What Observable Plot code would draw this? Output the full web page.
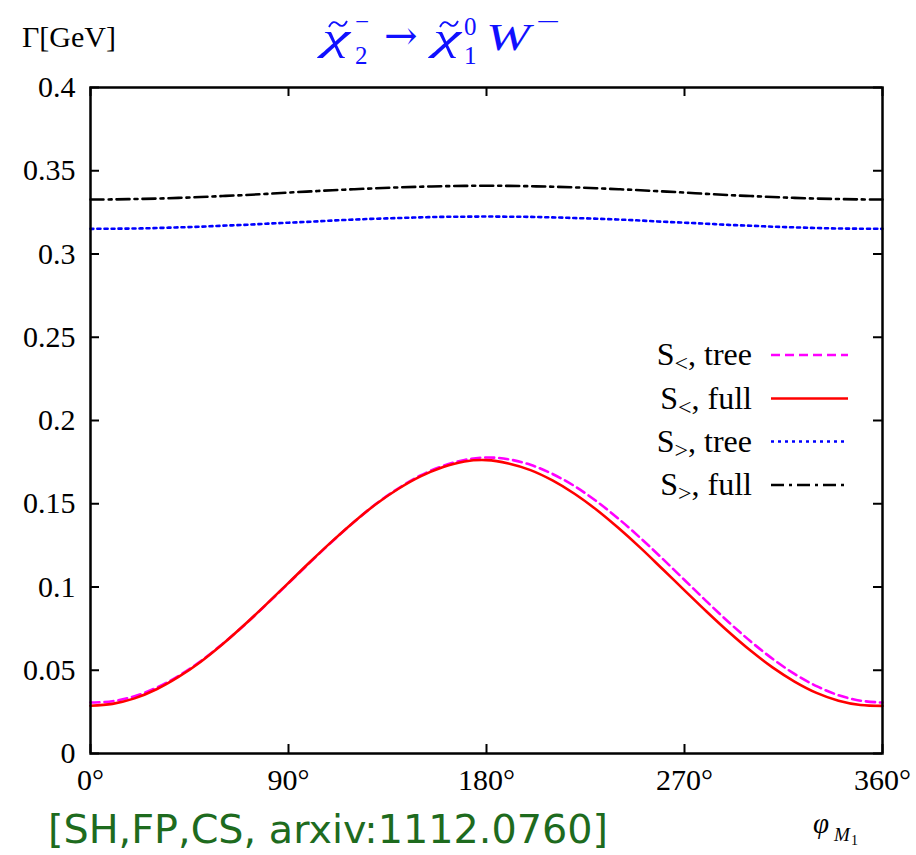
<!DOCTYPE html>
<html><head><meta charset="utf-8">
<script src="https://cdn.jsdelivr.net/npm/d3@7"></script>
<script src="https://cdn.jsdelivr.net/npm/@observablehq/plot@0.6"></script>
<style>body{margin:0;background:#fff;} svg{display:block}</style>
</head><body><div id="chart"></div>
<script>
// phase of M1 in degrees
const phi = [0,10,20,30,40,50,60,70,80,90,100,110,120,130,140,150,160,170,180,190,200,210,220,230,240,250,260,270,280,290,300,310,320,330,340,350,360];
// S<, tree (magenta dashed)
const sLessTree = [0.0306,0.0314,0.0344,0.0395,0.0466,0.0554,0.0658,0.0772,0.0896,0.1023,0.1151,0.1275,0.1393,0.1501,0.1593,0.1670,0.1726,0.1763,0.1778,0.1767,0.1734,0.1679,0.1606,0.1515,0.1410,0.1294,0.1170,0.1042,0.0914,0.0790,0.0674,0.0569,0.0478,0.0405,0.0350,0.0317,0.0306];
// S<, full (red solid)
const sLessFull = [0.0287,0.0298,0.0331,0.0386,0.0460,0.0550,0.0656,0.0773,0.0897,0.1025,0.1153,0.1277,0.1394,0.1500,0.1590,0.1664,0.1719,0.1754,0.1762,0.1742,0.1702,0.1640,0.1560,0.1464,0.1354,0.1235,0.1108,0.0980,0.0853,0.0731,0.0618,0.0517,0.0432,0.0364,0.0317,0.0291,0.0286];
// S>, tree (blue dotted)
const sGreaterTree = [0.3151,0.3152,0.3153,0.3156,0.3160,0.3164,0.3170,0.3175,0.3182,0.3188,0.3194,0.3201,0.3207,0.3212,0.3216,0.3220,0.3223,0.3224,0.3225,0.3224,0.3223,0.3220,0.3216,0.3212,0.3207,0.3201,0.3194,0.3188,0.3182,0.3175,0.3170,0.3164,0.3160,0.3156,0.3153,0.3152,0.3151];
// S>, full (black dash-dot)
const sGreaterFull = [0.3327,0.3328,0.3330,0.3333,0.3337,0.3342,0.3348,0.3354,0.3361,0.3369,0.3376,0.3383,0.3389,0.3395,0.3400,0.3404,0.3407,0.3409,0.3410,0.3409,0.3407,0.3404,0.3400,0.3395,0.3389,0.3383,0.3376,0.3369,0.3361,0.3354,0.3348,0.3342,0.3337,0.3333,0.3330,0.3328,0.3327];

const xTicks = [0,90,180,270,360];
const yTicks = [0,0.05,0.1,0.15,0.2,0.25,0.3,0.35,0.4];
const legendSub = ["<","<",">",">"];
const legendRest = [", tree",", full",", tree",", full"];

const styles = [
  {stroke:"#ff00ff", dash:"9,5"},
  {stroke:"#ff0000", dash:null},
  {stroke:"#0000ff", dash:"3,4"},
  {stroke:"#000000", dash:"13,5,3,5"}
];
const seriesVals = [sLessTree, sLessFull, sGreaterTree, sGreaterFull];
const mk = vals => phi.map((p,i)=>({phi:p, gamma:vals[i]}));

const lineMarks = seriesVals.map((vals,k)=>Plot.line(mk(vals), {
  x:"phi", y:"gamma", stroke:styles[k].stroke, strokeWidth:2.6,
  strokeDasharray:styles[k].dash, curve:"catmull-rom"
}));

const W = 916, H = 855, mL = 90, mR = 34, mT = 87, mB = 102;
const innerW = W - mL - mR, innerH = H - mT - mB, tick = 9;
const serif = "'Liberation Serif', 'Times New Roman', serif";
const fmtY = d => String(+d.toFixed(2));
const chart = Plot.plot({
  width:W, height:H,
  marginLeft:mL, marginRight:mR, marginTop:mT, marginBottom:mB,
  x:{domain:[0,360]},
  y:{domain:[0,0.4]},
  style:{fontFamily:serif, fontSize:"30px", background:"white", color:"black", overflow:"visible"},
  marks:[
    Plot.ruleY(yTicks, {insetRight:innerW - tick, stroke:"black", strokeWidth:2}),
    Plot.ruleY(yTicks, {insetLeft:innerW - tick, stroke:"black", strokeWidth:2}),
    Plot.ruleX(xTicks, {insetTop:innerH - tick, stroke:"black", strokeWidth:2}),
    Plot.ruleX(xTicks, {insetBottom:innerH - tick, stroke:"black", strokeWidth:2}),
    Plot.axisY({anchor:"left", ticks:yTicks, tickSize:0, tickPadding:15, tickFormat:fmtY, label:null, fontSize:30}),
    Plot.axisX({anchor:"bottom", ticks:xTicks, tickSize:0, tickPadding:15, tickFormat:d=>d+"°", label:null, fontSize:30}),
    ...lineMarks,
    Plot.frame({stroke:"black", strokeWidth:2.5})
  ]
});
document.getElementById("chart").appendChild(chart);

const svg = d3.select(chart);
svg.selectAll("g, text").style("font-family", serif);
function txt(x, y, s, opts={}) {
  const t = svg.append("text").attr("x",x).attr("y",y).text(s)
    .style("font-family", opts.family || serif)
    .attr("font-size", opts.size || 30)
    .attr("font-style", opts.italic ? "italic" : "normal")
    .attr("fill", opts.fill || "black")
    .attr("text-anchor", opts.anchor || "start");
  if (opts.len) t.attr("textLength", opts.len).attr("lengthAdjust","spacingAndGlyphs");
  return t;
}
function tilde(cx, cy, color) {
  svg.append("path")
    .attr("d", `M${cx-9},${cy+3} C${cx-6},${cy-3} ${cx-3},${cy-3} ${cx},${cy} S${cx+6},${cy+3} ${cx+9},${cy-3}`)
    .attr("fill","none").attr("stroke",color).attr("stroke-width",1.8);
}

// y-axis unit label
txt(22, 47, "Γ[GeV]", {size:30});

// title  chi~_2^- -> chi~_1^0 W^-
const blue = "#1010ff";
txt(322, 50, "χ", {size:38, italic:true, fill:blue, len:28});
tilde(338, 24, blue);
txt(355, 64, "2", {size:25, fill:blue});
txt(355, 30, "\u2212", {size:25, fill:blue});
txt(384, 49, "\u2192", {size:40, fill:blue, family:"'DejaVu Serif', serif"});
txt(433, 50, "χ", {size:38, italic:true, fill:blue, len:28});
tilde(449, 24, blue);
txt(464, 35, "0", {size:25, fill:blue});
txt(464, 64, "1", {size:25, fill:blue});
txt(486, 50, "W", {size:38, italic:true, fill:blue, len:44});
txt(536, 30, "\u2212", {size:25, fill:blue, len:24});

// x-axis label
txt(813, 833, "φ", {size:29, italic:true});
txt(834, 841, "M", {size:19, italic:true});
txt(851, 845, "1", {size:14});

// legend
const rowY = [355, 398.5, 441.5, 485];
rowY.forEach((y,k)=>{
  const t = svg.append("text").attr("x",752).attr("y",y+10)
    .style("font-family",serif).attr("font-size",32).attr("text-anchor","end");
  t.append("tspan").text("S");
  t.append("tspan").attr("dy",6).attr("font-size",24).text(legendSub[k]);
  t.append("tspan").attr("dy",-6).text(legendRest[k]);
  svg.append("line").attr("x1",771).attr("x2",848).attr("y1",y).attr("y2",y)
    .attr("stroke",styles[k].stroke).attr("stroke-width",2.6)
    .attr("stroke-dasharray",styles[k].dash);
});

// caption
txt(48, 843, "[SH,FP,CS, arxiv:1112.0760]", {size:39, family:"'DejaVu Sans', sans-serif", fill:"#1e6b1e", len:560});
</script>
</body></html>
